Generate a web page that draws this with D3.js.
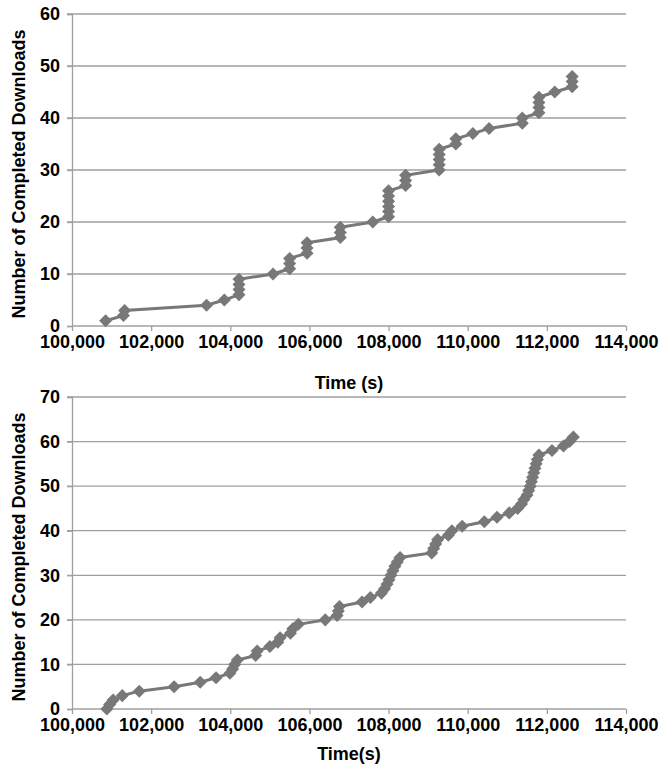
<!DOCTYPE html>
<html>
<head>
<meta charset="utf-8">
<script src="https://cdn.jsdelivr.net/npm/d3@7"></script>
<style>
  body { margin: 0; background: white; }
  text { font-family: "Liberation Sans", Arial, sans-serif; font-weight: bold; fill: #000; }
</style>
</head>
<body>
<div id="chart"></div>
<script>
// top chart: time of each completed download (s), count 1..48
const topTimes = [100850, 101300, 101330, 103400, 103850, 104220, 104220, 104220, 104220,
    105080, 105500, 105500, 105500, 105940, 105940, 105940, 106780, 106780, 106780,
    107600, 108000, 108000, 108000, 108000, 108000, 108000, 108430, 108430, 108430,
    109280, 109280, 109280, 109280, 109280, 109700, 109700, 110130, 110540, 111380, 111380,
    111800, 111800, 111800, 111800, 112200, 112640, 112640, 112640];
const topCounts = topTimes.map((d, i) => i + 1);

// bottom chart: count 0..61
const bottomTimes = [100880, 100950, 101040, 101270, 101700, 102580, 103240, 103640, 103990,
    104060, 104110, 104180, 104640, 104680, 105000, 105200, 105260, 105520, 105580, 105720,
    106400, 106700, 106730, 106760, 107330, 107540, 107820, 107900, 107960, 108010, 108060,
    108110, 108160, 108220, 108290, 109090, 109140, 109190, 109240, 109510, 109600, 109860,
    110420, 110740, 111050, 111260, 111360, 111420, 111500, 111540, 111580, 111610, 111640,
    111670, 111700, 111730, 111760, 111800, 112130, 112420, 112570, 112670];
const bottomCounts = bottomTimes.map((d, i) => i);

const xTicks = [100000, 102000, 104000, 106000, 108000, 110000, 112000, 114000];
const topYTicks = [0, 10, 20, 30, 40, 50, 60];
const bottomYTicks = [0, 10, 20, 30, 40, 50, 60, 70];

const gray = "#787878";
const gridColor = "#9f9f9f";
const font = "Liberation Sans, Arial, sans-serif";

var svg = d3.select("#chart")
    .append("svg")
    .attr("width", 663)
    .attr("height", 772);

var x = d3.scaleLinear()
    .domain([100000, 114000])
    .range([72, 626]);

function drawPanel(times, counts, yTicks, yMax, top, bottom, xTitle, titleY) {
    var y = d3.scaleLinear()
        .domain([0, yMax])
        .range([bottom, top]);

    // gridlines
    svg.append("g")
        .selectAll("line")
        .data(yTicks.filter(d => d > 0))
        .join("line")
        .attr("x1", 67)
        .attr("x2", 626)
        .attr("y1", d => y(d))
        .attr("y2", d => y(d))
        .style("stroke", gridColor)
        .style("stroke-width", 1.3);

    // y axis
    var yAxis = svg.append("g")
        .attr("transform", "translate(72,0)")
        .call(d3.axisLeft(y).tickValues(yTicks).tickSize(5).tickPadding(7));
    yAxis.selectAll("path, line").style("stroke", gridColor).style("stroke-width", 1.3);
    yAxis.selectAll("text").style("font-size", "18px").style("font-family", font).style("font-weight", "bold");

    // x axis
    var xAxis = svg.append("g")
        .attr("transform", "translate(0," + bottom + ")")
        .call(d3.axisBottom(x).tickValues(xTicks).tickSize(5).tickPadding(4).tickFormat(d3.format(",")));
    xAxis.selectAll("path, line").style("stroke", gridColor).style("stroke-width", 1.3);
    xAxis.select(".domain").attr("d", "M72,0H626");
    xAxis.selectAll("text").style("font-size", "18px").style("font-family", font).style("font-weight", "bold");

    var pts = times.map((t, i) => [t, counts[i]]);

    svg.append("path")
        .datum(pts)
        .attr("d", d3.line().x(d => x(d[0])).y(d => y(d[1])))
        .style("fill", "none")
        .style("stroke", gray)
        .style("stroke-width", 3);

    svg.append("g")
        .selectAll("path")
        .data(pts)
        .join("path")
        .attr("d", d3.symbol(d3.symbolSquare, 85))
        .attr("transform", d => "translate(" + x(d[0]) + "," + y(d[1]) + ") rotate(45)")
        .style("fill", gray);

    svg.append("text")
        .attr("x", 349)
        .attr("y", titleY)
        .attr("text-anchor", "middle")
        .attr("font-size", 18)
        .text(xTitle);

    svg.append("text")
        .attr("transform", "translate(25," + ((top + bottom) / 2 + 4) + ") rotate(-90)")
        .attr("text-anchor", "middle")
        .attr("font-size", 18)
        .text("Number of Completed Downloads");
}

drawPanel(topTimes, topCounts, topYTicks, 60, 14, 326, "Time (s)", 389);
drawPanel(bottomTimes, bottomCounts, bottomYTicks, 70, 397, 709, "Time(s)", 760);
</script>
</body>
</html>
